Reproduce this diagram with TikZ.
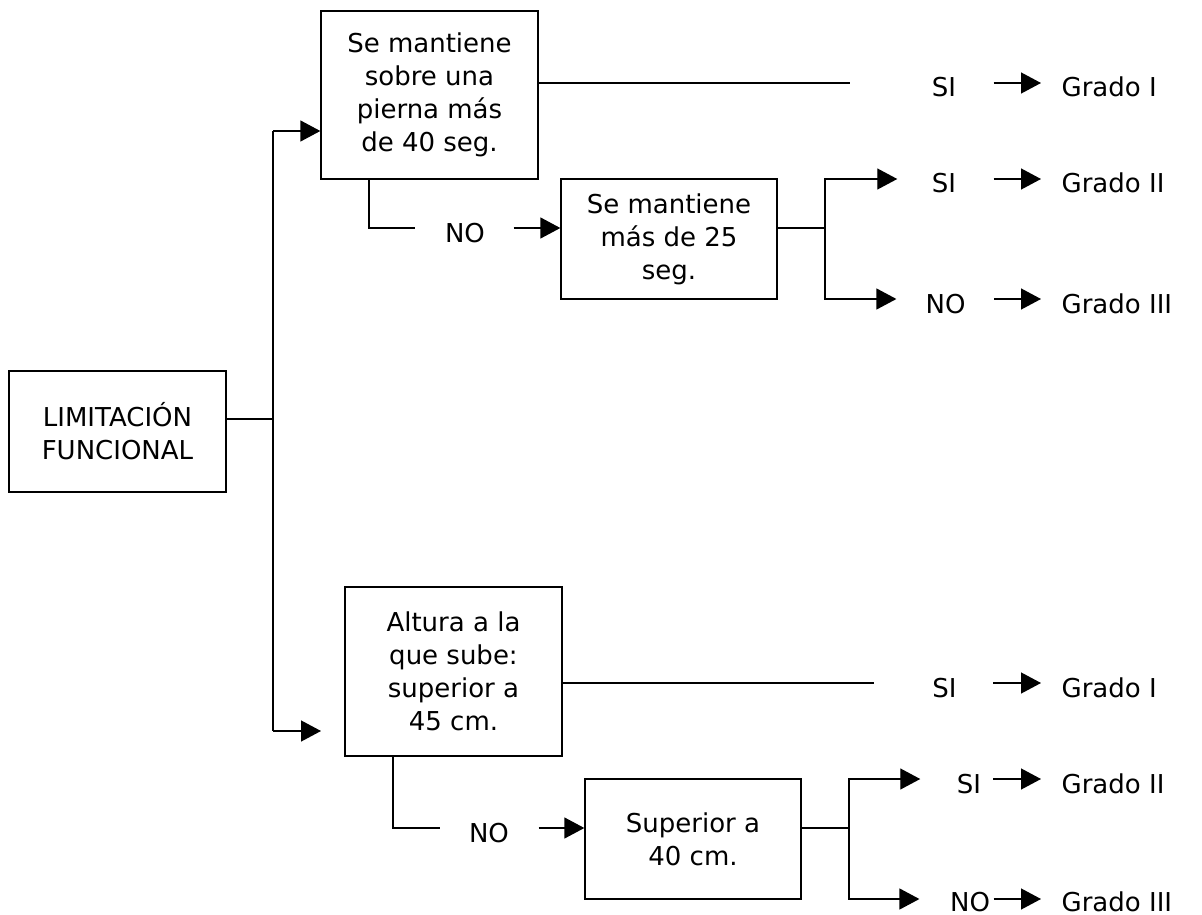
\documentclass[tikz,border=0pt]{standalone}
\usepackage{fontspec}
\setmainfont{DejaVu Sans}
\usetikzlibrary{arrows.meta}
\begin{document}
\begin{tikzpicture}[x=1pt,y=-1pt, line width=1.3pt,
  box/.style={draw, inner sep=0pt, align=center, font=\fontsize{26}{33}\selectfont},
  lbl/.style={inner sep=0pt, text height=28pt, text depth=0pt, font=\fontsize{26}{33}\selectfont},
  arr/.style={-{Triangle[length=20pt,width=21pt]}}]
\useasboundingbox (0,0) rectangle (1202,915);
% boxes
\node[box, minimum width=217pt, minimum height=121pt] (lim) at (117.5,431.5) {LIMITACIÓN\\FUNCIONAL};
\node[box, minimum width=217pt, minimum height=168pt] (A) at (429.5,95) {Se mantiene\\sobre una\\pierna más\\de 40 seg.};
\node[box, minimum width=216pt, minimum height=120pt] (B) at (669,239) {Se mantiene\\más de 25\\seg.};
\node[box, minimum width=217pt, minimum height=169pt] (C) at (453.5,671.5) {Altura a la\\que sube:\\superior a\\45 cm.};
\node[box, minimum width=216pt, minimum height=120pt] (D) at (693,839) {Superior a\\40 cm.};
% labels
\node[lbl] (no1) at (465,228) {NO};
\node[lbl] (si1) at (944,83) {SI};
\node[lbl, anchor=west] (g1) at (1061,83) {Grado I};
\node[lbl] (si2) at (944,179) {SI};
\node[lbl, anchor=west] (g2) at (1061,179) {Grado II};
\node[lbl] (no3) at (945.5,299) {NO};
\node[lbl, anchor=west] (g3) at (1061,299) {Grado III};
\node[lbl] (no2) at (489,828) {NO};
\node[lbl] (si4) at (944.5,683) {SI};
\node[lbl, anchor=west] (g4) at (1061,683) {Grado I};
\node[lbl] (si5) at (969,779) {SI};
\node[lbl, anchor=west] (g5) at (1061,779) {Grado II};
\node[lbl, text height=24pt] (no6) at (970,899) {NO};
\node[lbl, text height=24pt, anchor=west] (g6) at (1061,899) {Grado III};
% trunk
\coordinate (tj) at (273,419);
\coordinate (ttop) at (273,131);
\coordinate (tbot) at (273,731);
\coordinate (cin) at (321,731);
\draw (lim.east |- tj) -- (tj);
\draw (ttop) -- (tbot);
\draw[arr] (ttop) -- (A.west |- ttop);
\draw[arr] (tbot) -- (cin);
% upper branch
\coordinate (aend) at (849.5,83);
\draw (A.east |- si1) -- (aend);
\coordinate (nA) at (369,0);
\draw (A.south -| nA) |- ([xshift=-29pt]no1.west);
\draw[arr] ([xshift=28pt]no1.east) -- (B.west |- no1);
\coordinate (bj) at (825,228);
\draw (B.east |- bj) -- (bj);
\draw[arr] (bj) |- ([xshift=-34pt]si2.west);
\draw[arr] (bj) |- ([xshift=-28.5pt]no3.west);
\draw[arr] ([xshift=37pt]si1.east) -- ([xshift=-20pt]g1.west);
\draw[arr] ([xshift=37pt]si2.east) -- ([xshift=-20pt]g2.west);
\draw[arr] ([xshift=28pt]no3.east) -- ([xshift=-20pt]g3.west);
% lower branch
\coordinate (cend) at (874,683);
\draw (C.east |- si4) -- (cend);
\coordinate (nC) at (393,0);
\draw (C.south -| nC) |- ([xshift=-28.5pt]no2.west);
\draw[arr] ([xshift=29pt]no2.east) -- (D.west |- no2);
\coordinate (dj) at (849,828);
\draw (D.east |- dj) -- (dj);
\draw[arr] (dj) |- ([xshift=-36pt]si5.west);
\draw[arr] (dj) |- ([xshift=-30pt]no6.west);
\draw[arr] ([xshift=36pt]si4.east) -- ([xshift=-20pt]g4.west);
\draw[arr] ([xshift=11.5pt]si5.east) -- ([xshift=-20pt]g5.west);
\draw[arr] ([xshift=3pt]no6.east) -- ([xshift=-20pt]g6.west);
\end{tikzpicture}
\end{document}
